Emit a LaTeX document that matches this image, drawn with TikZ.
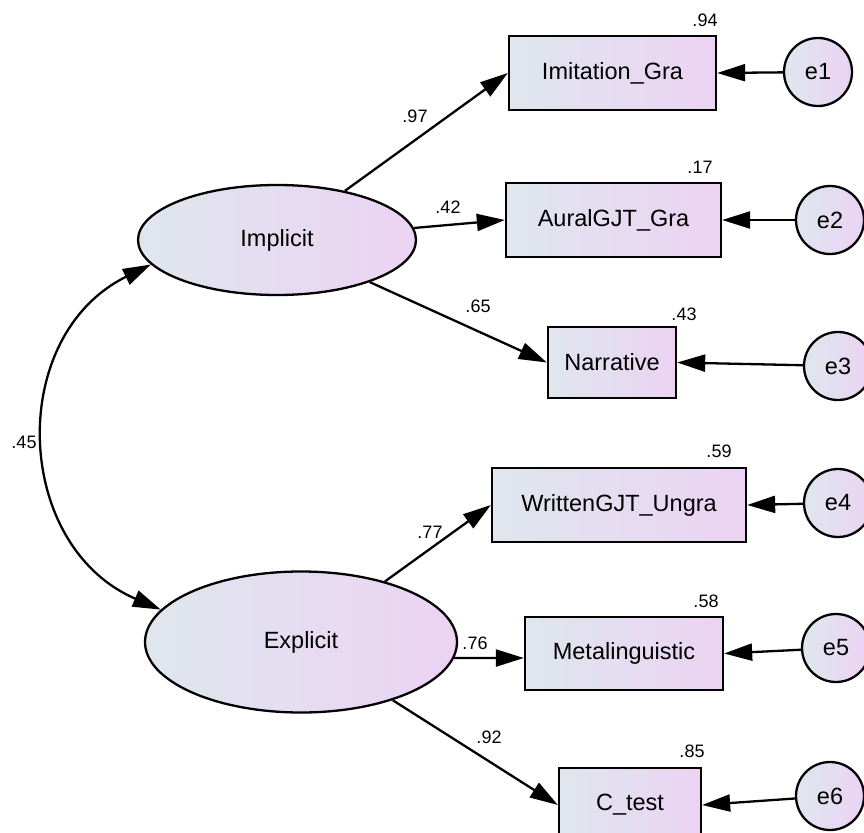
\documentclass[tikz,border=0pt]{standalone}
\usepackage{fontspec}
\setmainfont{Liberation Sans}
\usetikzlibrary{arrows.meta,shapes.geometric}
\definecolor{shL}{RGB}{223,230,238}
\definecolor{shR}{RGB}{236,211,243}
\begin{document}
\begin{tikzpicture}[x=1pt,y=-1pt,
  every node/.style={inner sep=0pt},
  txt/.style={font=\fontsize{23.5}{27}\selectfont},
  obs/.style={txt, draw, line width=2.3pt, rectangle, left color=shL, right color=shR},
  lat/.style={txt, draw, line width=2.3pt, ellipse, left color=shL, right color=shR},
  err/.style={txt, draw, line width=2.3pt, circle, minimum size=68pt, left color=shL, right color=shR},
  conn/.style={line width=2.3pt, -{Triangle[length=28pt,width=17pt]}},
  cov/.style={line width=2.3pt, {Triangle[length=28pt,width=17pt]}-{Triangle[length=28pt,width=17pt]}},
  num/.style={font=\fontsize{18}{20}\selectfont}]
\useasboundingbox (0,0) rectangle (864,832);

% latent variables
\node[lat, minimum width=278pt, minimum height=110pt] (imp) at (277,240) {Implicit};
\node[lat, minimum width=312pt, minimum height=141pt] (exp) at (301,642) {Explicit};

% observed variables
\node[obs, minimum width=207pt, minimum height=74pt] (imit) at (612.5,73) {Imitation\_Gra};
\node[obs, minimum width=215pt, minimum height=74pt] (aural) at (613.5,220) {AuralGJT\_Gra};
\node[obs, minimum width=128pt, minimum height=71pt] (narr) at (612,362.5) {Narrative};
\node[obs, minimum width=254pt, minimum height=74pt] (writ) at (619,505) {WrittenGJT\_Ungra};
\node[obs, minimum width=198pt, minimum height=73pt] (meta) at (624,653.5) {Metalinguistic};
\node[obs, minimum width=142pt, minimum height=74pt] (ctest) at (630,805) {C\_test};

% error terms
\node[err] (e1) at (818,72) {e1};
\node[err] (e2) at (830,220) {e2};
\node[err] (e3) at (838,366) {e3};
\node[err] (e4) at (838,503) {e4};
\node[err] (e5) at (836,648) {e5};
\node[err] (e6) at (830,796) {e6};

% loadings
\draw[conn] (imp) -- (imit.west);
\draw[conn] (imp) -- (aural.west);
\draw[conn] (imp) -- (narr.west);
\draw[conn] (exp) -- (writ.west);
\draw[conn] (exp.-6) -- ([yshift=-4.5pt]meta.west);
\draw[conn] (exp) -- (ctest.west);

% errors
\draw[conn] (e1) -- (imit.east);
\draw[conn] (e2) -- (aural.east);
\draw[conn] (e3) -- (narr.east);
\draw[conn] (e4) -- (writ.east);
\draw[conn] (e5) -- (meta.east);
\draw[conn] (e6) -- (ctest.east);

% covariance
\draw[cov] (imp.191) .. controls (6,336) and (13,546) .. (exp.167);

% coefficient labels
\node[num] (l97) at (415,116) {.97};
\node[num] (l42) at (448,207) {.42};
\node[num] (l65) at (478,306) {.65};
\node[num] (l77) at (430,532) {.77};
\node[num] (l76) at (475,643) {.76};
\node[num] (l92) at (489,737) {.92};
\node[num] (l45) at (24,442) {.45};

% squared multiple correlations
\node[num] (r94) at (705,20) {.94};
\node[num] (r17) at (700,167) {.17};
\node[num] (r43) at (684,314) {.43};
\node[num] (r59) at (719,451) {.59};
\node[num] (r58) at (706,601) {.58};
\node[num] (r85) at (692,751) {.85};
\end{tikzpicture}
\end{document}
